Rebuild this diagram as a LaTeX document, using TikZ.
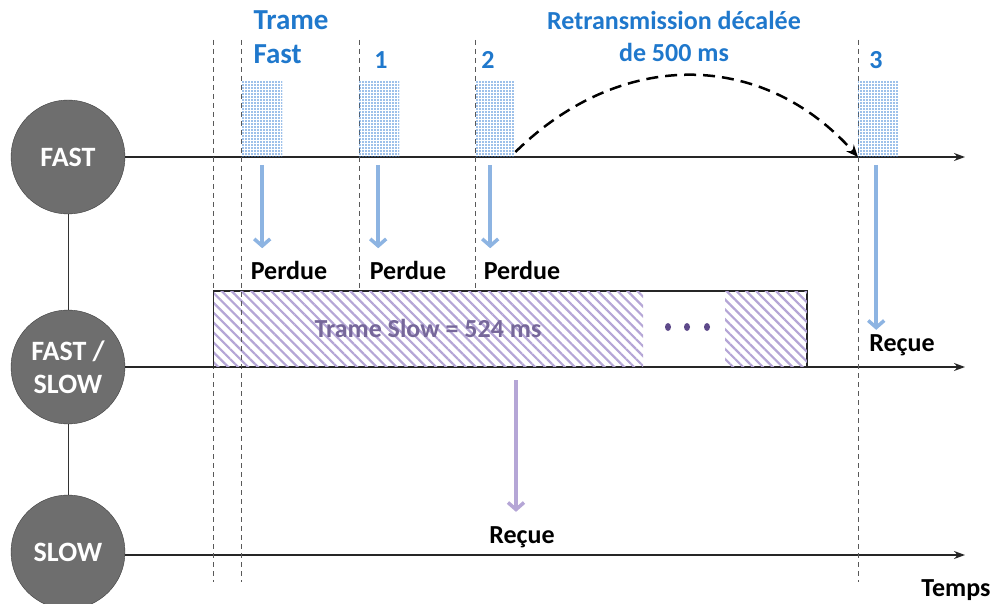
\documentclass[tikz,border=0pt]{standalone}
\usepackage{fontspec}
\setmainfont{Carlito}
\usetikzlibrary{positioning,patterns.meta,arrows.meta}

\definecolor{nodegray}{HTML}{6E6E6E}
\definecolor{titleblue}{HTML}{1F78CC}
\definecolor{arrowblue}{HTML}{8DB4E2}
\definecolor{dotblue}{HTML}{3A82D4}
\definecolor{hatchlilac}{HTML}{B5A6D6}
\definecolor{slowtext}{HTML}{76679A}
\definecolor{dotpurple}{HTML}{5E4A8A}

\begin{document}
\begin{tikzpicture}[x=1pt, y=-1pt,
    chan/.style={circle, draw=black!75, fill=nodegray, minimum size=114pt, inner sep=0pt,
        text=white, align=center, font=\bfseries\fontsize{28}{33}\selectfont},
    axis/.style={draw=black!85, line width=1.3pt, -{Stealth[length=11pt,width=8pt]}},
    cutline/.style={draw=black!65, line width=0.8pt, dash pattern=on 5pt off 4pt},
    fframe/.style={rectangle, minimum width=40pt, minimum height=76pt, inner sep=0pt,
        pattern={Dots[radius=0.9pt,distance=3pt]}, pattern color=dotblue},
    hatch/.style={pattern={Lines[angle=-45,distance=7pt,line width=2.2pt]}, pattern color=hatchlilac},
    lost/.style={draw=arrowblue, line width=3.5pt, -{Straight Barb[length=7pt,width=16pt]}},
    got/.style={draw=hatchlilac, line width=3.5pt, -{Straight Barb[length=7pt,width=16pt]}},
    retry/.style={draw=black, line width=2.5pt, dash pattern=on 12pt off 7pt, -{Stealth[length=12pt,width=10pt]}},
    title/.style={text=titleblue, font=\bfseries\fontsize{26}{32}\selectfont},
    lbl/.style={font=\bfseries\fontsize{26}{28}\selectfont}
]
\useasboundingbox (0,0) rectangle (994,604);

% channels
\node[chan] (fast) at (68,157) {FAST};
\node[chan] (mixed) at (68,367) {FAST /\\SLOW};
\node[chan] (slow) at (68,552) {SLOW};
\draw[black!80, line width=1pt] (fast) -- (mixed) (mixed) -- (slow);

% time axes
\coordinate (efast) at (965,157);
\coordinate (emixed) at (965,367);
\coordinate (eslow) at (965,555);
\draw[axis] (fast.east) -- (efast);
\draw[axis] (mixed.east) -- (emixed);
\draw[axis] (slow.east |- eslow) -- (eslow);

% time marks
\foreach \x/\yb in {213/582, 241/582, 359/292, 475/292, 858/582}
    \draw[cutline] (\x,40) -- (\x,\yb);

% slow frame
\node[draw=black!85, line width=1pt, minimum width=593pt, minimum height=75pt,
    inner sep=0pt, anchor=south west] (sb) at (213,367) {};
\fill[hatch] (sb.south west) rectangle (643,292);
\fill[hatch] (725,367) rectangle (sb.north east);
\draw[black!85, line width=1pt] (sb.south west) rectangle (sb.north east);
\draw[cutline] (241,292) -- (241,367);
\node[text=slowtext, font=\bfseries\fontsize{26}{28}\selectfont] (st) at (428,328) {Trame Slow = 524 ms};
\foreach \x in {668,687,707}
    \fill[dotpurple] (\x,327) ellipse (3pt and 4pt);

% fast frames
\node[fframe, anchor=south west] (f0) at (242,157) {};
\node[fframe, anchor=south west] (f1) at (359,157) {};
\node[fframe, anchor=south west] (f2) at (475,157) {};
\node[fframe, anchor=south west] (f3) at (858,157) {};
\node[title, align=left, anchor=west, font=\bfseries\fontsize{29}{34}\selectfont] (tf) at (250,37) {Trame\\Fast};
\node[title] (n1) at (381,60) {1};
\node[title] (n2) at (488,60) {2};
\node[title] (n3) at (876,60) {3};
\node[title, align=center] (rt) at (674,36) {Retransmission décalée\\de 500 ms};

% retransmission
\draw[retry] ([yshift=5pt]f2.south east) .. controls (620,49) and (762,49) .. (f3.south west);

% reception
\node[lbl] (p0) at (289,270) {Perdue};
\node[lbl] (p1) at (408,270) {Perdue};
\node[lbl] (p2) at (522,270) {Perdue};
\node[lbl] (r3) at (902,345) {Reçue};
\node[lbl] (rs) at (522,537) {Reçue};
\node[lbl] (tps) at (956,590) {Temps};
\draw[lost, shorten <=8pt, shorten >=9pt] (f0.south) -- (f0.south |- p0.north);
\draw[lost, shorten <=8pt, shorten >=9pt] ([xshift=-1pt]f1.south) -- ([xshift=-1pt]f1.south |- p1.north);
\draw[lost, shorten <=8pt, shorten >=9pt] ([xshift=-5pt]f2.south) -- ([xshift=-5pt]f2.south |- p2.north);
\draw[lost, shorten <=8pt, shorten >=1pt] ([xshift=-2pt]f3.south) -- ([xshift=-2pt]f3.south |- r3.north);
\coordinate (sx) at (516,380);
\draw[got, shorten >=11pt] (sx) -- (sx |- rs.north);
\end{tikzpicture}
\end{document}
